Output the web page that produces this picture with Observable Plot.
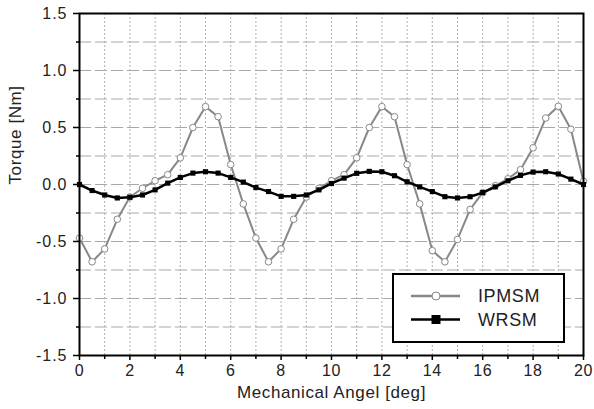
<!DOCTYPE html>
<html><head><meta charset="utf-8">
<script src="https://cdn.jsdelivr.net/npm/d3@7"></script>
<script src="https://cdn.jsdelivr.net/npm/@observablehq/plot@0.6"></script>
<style>
body{margin:0;background:#fff;}
#chart{position:relative;width:594px;height:409px;font-family:"Liberation Sans",Arial,sans-serif;}
#chart svg text{letter-spacing:0.6px;}
#chart svg [aria-label^="y-axis tick label"] text{letter-spacing:1px;}
#legend{position:absolute;left:392px;top:273px;}
</style></head><body><div id="chart"></div>
<script>
const angle = [0,0.5,1,1.5,2,2.5,3,3.5,4,4.5,5,5.5,6,6.5,7,7.5,8,8.5,9,9.5,10,10.5,11,11.5,12,12.5,13,13.5,14,14.5,15,15.5,16,16.5,17,17.5,18,18.5,19,19.5,20];
const ipmsm = [-0.47,-0.678,-0.565,-0.305,-0.11,-0.033,0.033,0.086,0.234,0.5,0.683,0.595,0.175,-0.17,
  -0.47,-0.678,-0.565,-0.305,-0.11,-0.033,0.033,0.086,0.234,0.5,0.683,0.595,0.175,-0.17,
  -0.58,-0.678,-0.482,-0.219,-0.071,-0.01,0.05,0.13,0.322,0.583,0.686,0.485,0.027];
const wrsm = [0,-0.053,-0.092,-0.118,-0.112,-0.092,-0.047,0.012,0.062,0.1,0.112,0.1,0.062,0.021,
  -0.027,-0.062,-0.104,-0.104,-0.092,-0.047,0.009,0.056,0.098,0.115,0.112,0.077,0.024,-0.021,
  -0.062,-0.107,-0.118,-0.107,-0.071,-0.021,0.033,0.08,0.109,0.112,0.092,0.047,0];
const xTickValues = [0,2,4,6,8,10,12,14,16,18,20];
const xMinorTicks = [1,3,5,7,9,11,13,15,17,19];
const yTickValues = [-1.5,-1,-0.5,0,0.5,1,1.5];
const yMinorTicks = [-1.25,-0.75,-0.25,0.25,0.75,1.25];
const xGrid = [1,2,3,4,5,6,7,8,9,10,11,12,13,14,15,16,17,18,19];
const yGrid = [-1.25,-1,-0.75,-0.5,-0.25,0,0.25,0.5,0.75,1,1.25];
const xTitle = "Mechanical Angel [deg]";
const yTitle = "Torque [Nm]";
const seriesNames = ["IPMSM","WRSM"];

const rows = angle.map((a,i)=>({angle:a, ipmsm:ipmsm[i], wrsm:wrsm[i]}));
const gray = "#888888";

const chart = Plot.plot({
  width:594, height:409,
  marginLeft:79, marginRight:11, marginTop:13, marginBottom:54,
  style:{fontFamily:'"Liberation Sans",Arial,sans-serif', color:"#222", background:"#fff"},
  x:{domain:[0,20], axis:null},
  y:{domain:[-1.5,1.5], axis:null},
  marks:[
    Plot.ruleY(yGrid,{stroke:"#a8a8a8", strokeWidth:1, strokeDasharray:"12,4"}),
    Plot.ruleX(xGrid,{stroke:"#b0b0b0", strokeWidth:1, strokeDasharray:"2,2"}),
    Plot.line(rows,{x:"angle", y:"ipmsm", stroke:gray, strokeWidth:2}),
    Plot.dot(rows,{x:"angle", y:"ipmsm", r:3.3, fill:"white", stroke:gray, strokeWidth:1}),
    Plot.line(rows,{x:"angle", y:"wrsm", stroke:"black", strokeWidth:2.5}),
    Plot.dot(rows,{x:"angle", y:"wrsm", symbol:"square", r:2.9, fill:"black", stroke:"none"}),
    Plot.frame({stroke:"black", strokeWidth:2}),
    Plot.axisX(xTickValues,{tickSize:5, tickPadding:4, fontSize:16, tickFormat:d=>String(d), label:null, strokeWidth:1.5, stroke:"black", fill:"#222"}),
    Plot.axisX(xMinorTicks,{tickSize:4, tickFormat:()=>"", label:null, strokeWidth:1.5, stroke:"black"}),
    Plot.axisY(yTickValues,{tickSize:6, tickPadding:6, fontSize:16, tickFormat:d=>d.toFixed(1), label:null, strokeWidth:1.5, stroke:"black", fill:"#222"}),
    Plot.axisY(yMinorTicks,{tickSize:3, tickFormat:()=>"", label:null, strokeWidth:1.5, stroke:"black"}),
    Plot.text([xTitle],{frameAnchor:"bottom", dy:42, fontSize:17, fill:"#222"}),
    Plot.text([yTitle],{frameAnchor:"left", dx:-64, rotate:-90, fontSize:17, fill:"#222"})
  ]
});
const host = document.getElementById("chart");
host.appendChild(chart);

// legend overlay
const ns = "http://www.w3.org/2000/svg";
const lg = document.createElementNS(ns,"svg");
lg.setAttribute("id","legend");
lg.setAttribute("width",174); lg.setAttribute("height",71);
lg.innerHTML = `
<rect x="1" y="1" width="171" height="68" fill="white" stroke="black" stroke-width="2"/>
<line x1="19" x2="68" y1="23" y2="23" stroke="${gray}" stroke-width="2.5"/>
<circle cx="44" cy="23" r="4" fill="white" stroke="${gray}" stroke-width="1"/>
<line x1="19" x2="68" y1="46.5" y2="46.5" stroke="black" stroke-width="2.5"/>
<rect x="39.5" y="42" width="9" height="9" fill="black"/>
<text x="86" y="23" dy="0.36em" font-size="18" fill="#222" font-family="Liberation Sans, Arial, sans-serif">${seriesNames[0]}</text>
<text x="86" y="46.5" dy="0.36em" font-size="18" fill="#222" font-family="Liberation Sans, Arial, sans-serif">${seriesNames[1]}</text>`;
host.appendChild(lg);
</script></body></html>
